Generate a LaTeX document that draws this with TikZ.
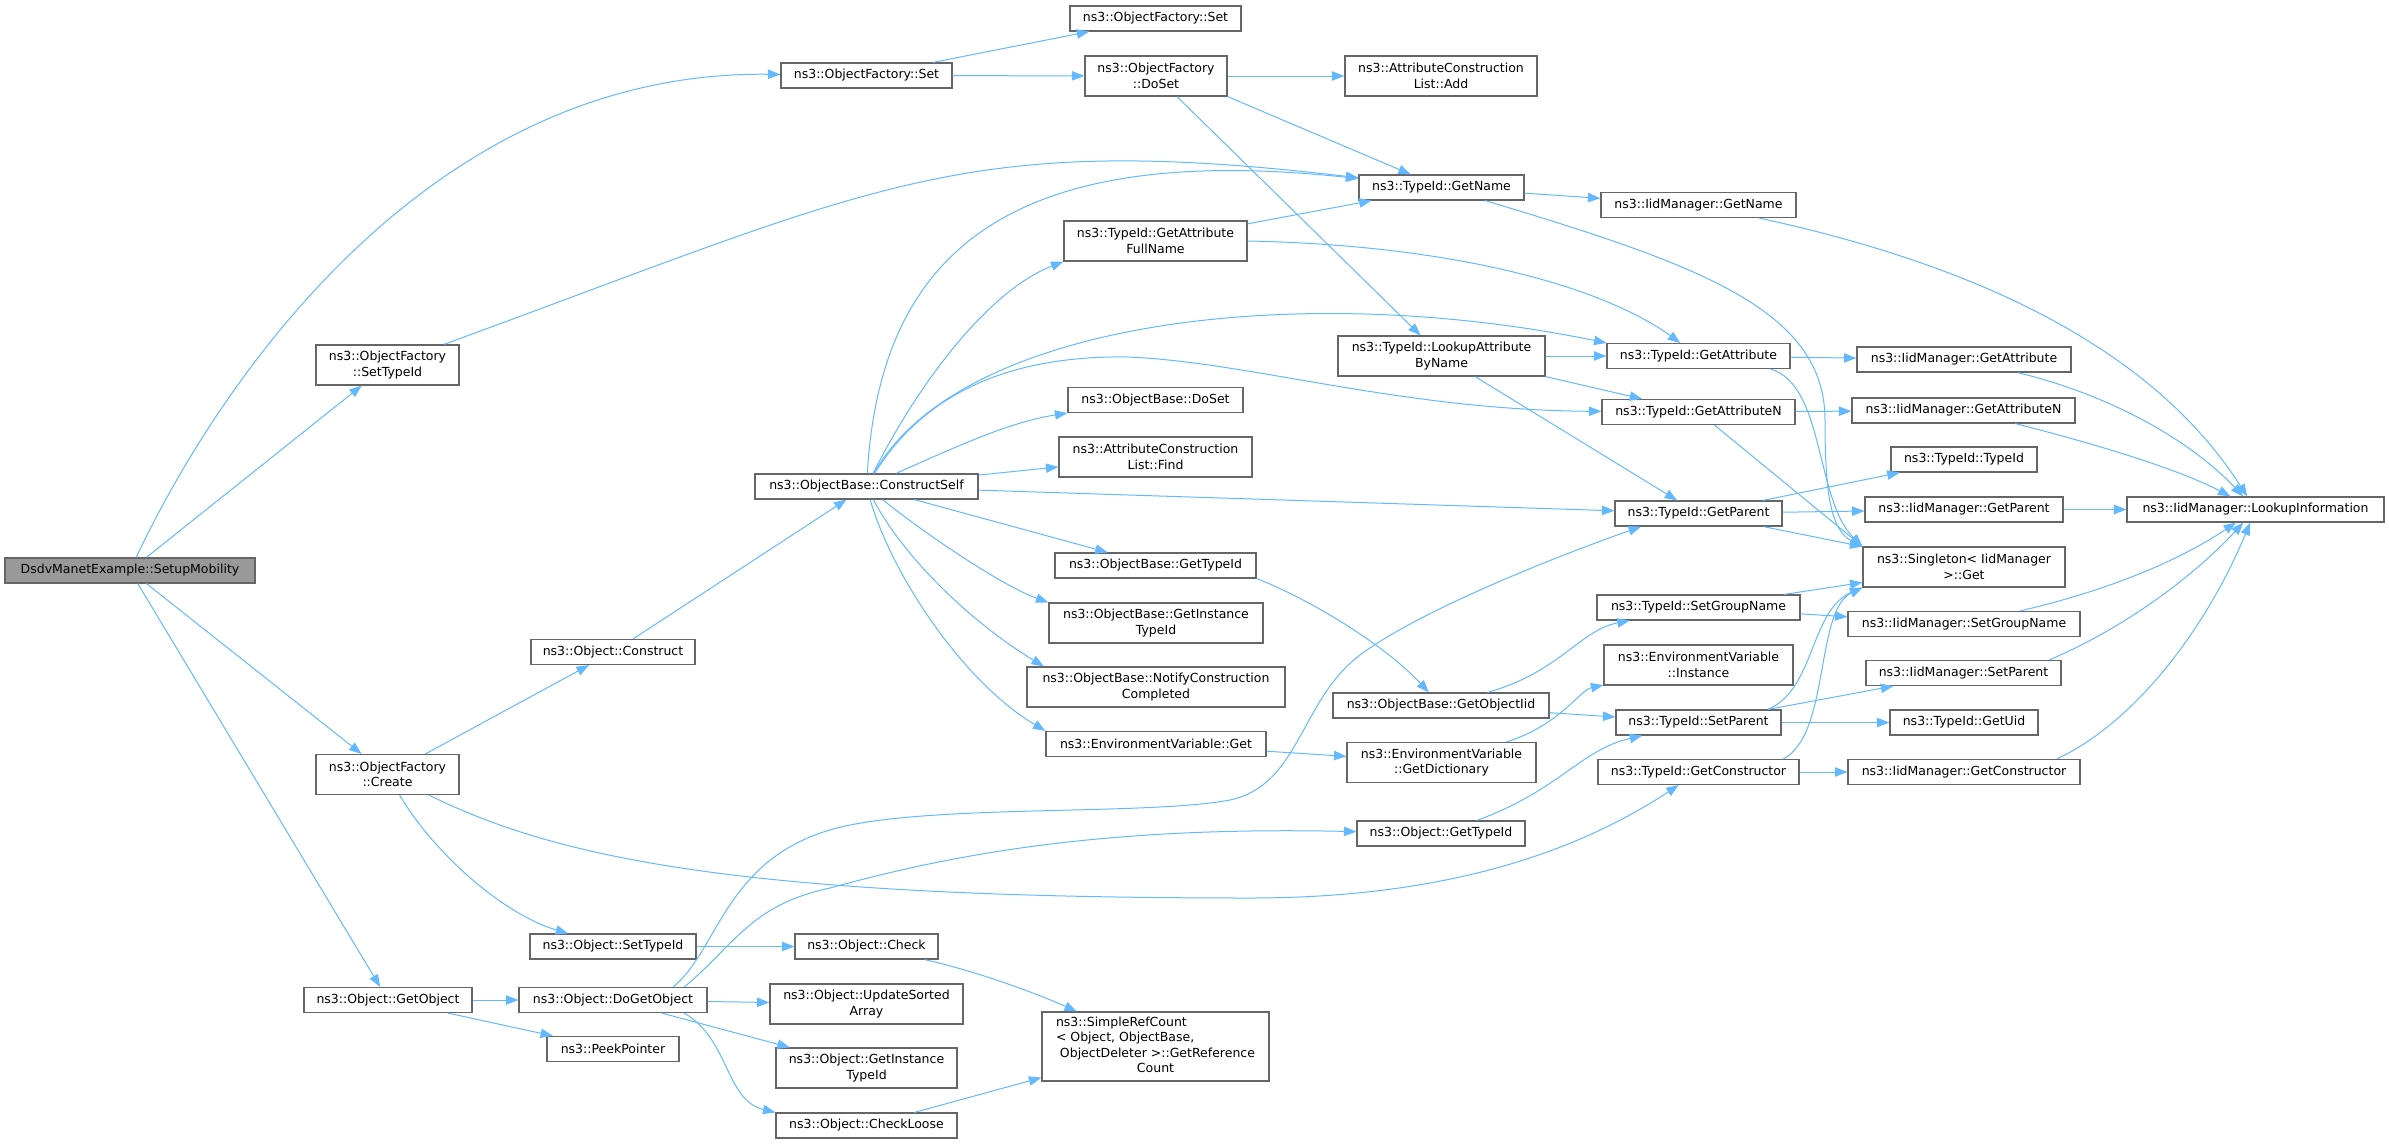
\documentclass[tikz,border=0pt]{standalone}
\usepackage{fontspec}
\setmainfont{DejaVu Sans}
\usetikzlibrary{arrows.meta}

\definecolor{callblue}{HTML}{63B8FF}
\definecolor{boxgray}{HTML}{666666}
\definecolor{rootgray}{HTML}{999999}

\begin{document}
\begin{tikzpicture}[x=0.8pt, y=-0.8pt,
    fn/.style={draw=boxgray, line width=0.9pt, fill=white, inner sep=0pt, align=center, font=\fontsize{10}{12.3}\selectfont},
    sz/.style 2 args={minimum width=#1*0.8pt, minimum height=#2*0.8pt},
    call/.style={callblue, line width=0.8pt, -{Triangle[length=10pt,width=7.5pt]}}]

        % page is as big as the graph
        \useasboundingbox (0,0) rectangle (2389,1143);

        % the documented function
        \node[fn, fill=rootgray, sz={250}{25}] (root) at (130,570.5) {DsdvManetExample::SetupMobility};

        % callees: name/x/y/width/height/text
        \foreach \nm/\cx/\cy/\w/\h/\txt in {
                ofset/866.5/75.5/171/25/{ns3::ObjectFactory::Set},
                ofsettop/1155.5/18.5/171/25/{ns3::ObjectFactory::Set},
                dosetof/1156/76/142/40/{ns3::ObjectFactory\\::DoSet},
                acladd/1441/76/192/40/{ns3::AttributeConstruction\\List::Add},
                settypeidof/387.5/365/143/40/{ns3::ObjectFactory\\::SetTypeId},
                getname/1441.5/187.5/165/25/{ns3::TypeId::GetName},
                iidgetname/1698.5/205/195/25/{ns3::IidManager::GetName},
                fullname/1155.5/241/183/40/{ns3::TypeId::GetAttribute\\FullName},
                lookupbyname/1441.5/356/207/40/{ns3::TypeId::LookupAttribute\\ByName},
                getattr/1698.5/356/183/25/{ns3::TypeId::GetAttribute},
                iidgetattr/1964/359.5/214/25/{ns3::IidManager::GetAttribute},
                getattrN/1698.5/412/193/25/{ns3::TypeId::GetAttributeN},
                iidgetattrN/1963.5/410.5/223/25/{ns3::IidManager::GetAttributeN},
                typeidtypeid/1964/459.5/146/25/{ns3::TypeId::TypeId},
                getparent/1698.5/513.5/167/25/{ns3::TypeId::GetParent},
                iidgetparent/1964/509.5/198/25/{ns3::IidManager::GetParent},
                lookupinfo/2255.5/509.5/257/25/{ns3::IidManager::LookupInformation},
                singleton/1964/567/202/40/{ns3::Singleton< IidManager\\ >::Get},
                constructself/866.5/486.5/223/25/{ns3::ObjectBase::ConstructSelf},
                obdoset/1155.5/400/175/25/{ns3::ObjectBase::DoSet},
                aclfind/1155.5/457/193/40/{ns3::AttributeConstruction\\List::Find},
                obgettypeid/1155.5/565.5/201/25/{ns3::ObjectBase::GetTypeId},
                obgetinsttypeid/1156/623/214/40/{ns3::ObjectBase::GetInstance\\TypeId},
                notify/1156/687/258/40/{ns3::ObjectBase::NotifyConstruction\\Completed},
                envget/1156/744/220/25/{ns3::EnvironmentVariable::Get},
                getobjectiid/1441/705.5/216/25/{ns3::ObjectBase::GetObjectIid},
                getdict/1441.5/762.5/189/40/{ns3::EnvironmentVariable\\::GetDictionary},
                objgettypeid/1441/833.5/168/25/{ns3::Object::GetTypeId},
                setgroupname/1698.5/607.5/203/25/{ns3::TypeId::SetGroupName},
                envinstance/1698.5/665/189/40/{ns3::EnvironmentVariable\\::Instance},
                setparent/1698.5/722.5/165/25/{ns3::TypeId::SetParent},
                getconstructor/1698.5/772/201/25/{ns3::TypeId::GetConstructor},
                iidsetgroupname/1964/624/232/25/{ns3::IidManager::SetGroupName},
                iidsetparent/1963.5/673/195/25/{ns3::IidManager::SetParent},
                getuid/1964/722.5/148/25/{ns3::TypeId::GetUid},
                iidgetconstructor/1964/772/232/25/{ns3::IidManager::GetConstructor},
                construct/613/652/164/25/{ns3::Object::Construct},
                create/387.5/774.5/143/40/{ns3::ObjectFactory\\::Create},
                objsettypeid/613/946.5/166/25/{ns3::Object::SetTypeId},
                getobject/388/1000/168/25/{ns3::Object::GetObject},
                dogetobject/613/1000/188/25/{ns3::Object::DoGetObject},
                peekpointer/613/1049/132/25/{ns3::PeekPointer},
                check/866.5/946.5/143/25/{ns3::Object::Check},
                updatesorted/866.5/1004/193/40/{ns3::Object::UpdateSorted\\Array},
                objinsttypeid/866.5/1068/181/40/{ns3::Object::GetInstance\\TypeId},
                checkloose/866.5/1125.5/181/25/{ns3::Object::CheckLoose}}
                \node[fn, sz={\w}{\h}] (\nm) at (\cx,\cy) {\txt};

        \node[fn, sz={227}{69}] (simplerefcount) at (1155.5,1046.5)
                {\begin{tabular}{@{}l@{}}ns3::SimpleRefCount\\< Object, ObjectBase,\\\ ObjectDeleter >::GetReference\\\multicolumn{1}{@{}c@{}}{Count}\end{tabular}};

        % straight calls
        \foreach \a/\b in {root/settypeidof, root/create, root/getobject, ofset/ofsettop, ofset/dosetof,
                dosetof/acladd, dosetof.south east/getname, dosetof/lookupbyname, fullname/getname,
                lookupbyname/getattr, lookupbyname.south east/getattrN, lookupbyname/getparent,
                constructself/getparent, constructself/aclfind, constructself/obgettypeid,
                construct/constructself, create/construct, objsettypeid/check, getobject/dogetobject,
                getobject/peekpointer, dogetobject/updatesorted, dogetobject/objinsttypeid,
                envget/getdict, getobjectiid/setparent, setgroupname/singleton,
                setgroupname/iidsetgroupname, setparent/getuid, getconstructor/iidgetconstructor,
                getparent/typeidtypeid, getparent/iidgetparent, getparent/singleton,
                getattrN/singleton.north west, getname/iidgetname, getattr/iidgetattr,
                getattrN/iidgetattrN, iidgetparent/lookupinfo, checkloose/simplerefcount}
                \draw[call] (\a) -- (\b);

        % curved calls
        \draw[call] (root) .. controls (220,380) and (430,70) .. (ofset);
        \draw[call] (settypeidof) .. controls (880,185) and (960,131) .. (getname);
        \draw[call] (constructself) .. controls (880,260) and (1000,140) .. (getname);
        \draw[call] (fullname.east) .. controls (1450,245) and (1600,285) .. (getattr);
        \draw[call] (constructself) .. controls (920,380) and (990,290) .. (fullname.south west);
        \draw[call] (constructself) .. controls (960,320) and (1300,280) .. (getattr.north west);
        \draw[call] (constructself) .. controls (920,400) and (1000,355) .. (1128,357)
                .. controls (1250,362) and (1400,410) .. (getattrN);
        \draw[call] (constructself) .. controls (960,445) and (1010,422) .. (obdoset.south west);
        \draw[call] (constructself) .. controls (920,530) and (1000,585) .. (obgetinsttypeid.north west);
        \draw[call] (constructself) .. controls (905,560) and (975,625) .. ([xshift=14pt]notify.north west);
        \draw[call] (constructself) .. controls (890,570) and (960,680) .. (envget.north west);
        \draw[call] (create) .. controls (435,855) and (505,915) .. (objsettypeid);
        \draw[call] (create) .. controls (560,860) and (750,898) .. (1250,898)
                .. controls (1450,898) and (1580,850) .. (getconstructor);
        \draw[call] ([xshift=57pt]dogetobject.south) .. controls (730,1040) and (725,1100) .. (checkloose.north west);
        \draw[call] ([xshift=48pt]dogetobject.north) .. controls (720,950) and (725,850) .. (850,825)
                .. controls (950,805) and (1150,815) .. (1230,800)
                .. controls (1300,785) and (1300,700) .. (1360,655)
                .. controls (1420,610) and (1560,555) .. ([xshift=-46pt]getparent.south);
        \draw[call] ([xshift=57pt]dogetobject.north) .. controls (735,945) and (750,905) .. (830,888)
                .. controls (950,855) and (1100,826) .. (objgettypeid);
        \draw[call] (obgettypeid.south east) .. controls (1300,595) and (1380,640) .. (getobjectiid);
        \draw[call] (getobjectiid) .. controls (1560,672) and (1580,630) .. (setgroupname);
        \draw[call] (getdict) .. controls (1560,725) and (1580,690) .. (envinstance);
        \draw[call] (objgettypeid) .. controls (1560,790) and (1580,750) .. (setparent);
        \draw[call] ([xshift=-11pt]setparent.north east) .. controls (1815,690) and (1810,610) .. (singleton.south west);
        \draw[call] ([xshift=-11pt]setparent.north east) -- (iidsetparent);
        \draw[call] ([xshift=-13pt]getconstructor.north east) .. controls (1830,735) and (1815,610) .. (singleton.south west);
        \draw[call] (getname) .. controls (1700,265) and (1825,310) .. (1825,420)
                .. controls (1825,490) and (1830,530) .. (singleton.north west);
        \draw[call] ([xshift=-16pt]getattr.south east) .. controls (1825,385) and (1815,500) .. (singleton.north west);
        \draw[call] (iidgetname) .. controls (2000,270) and (2160,360) .. (lookupinfo);
        \draw[call] (iidgetattr) .. controls (2110,395) and (2190,440) .. (lookupinfo);
        \draw[call] (iidgetattrN) .. controls (2100,445) and (2180,470) .. (lookupinfo);
        \draw[call] (iidsetgroupname) .. controls (2110,590) and (2180,560) .. (lookupinfo);
        \draw[call] ([xshift=-10pt]iidsetparent.north east) .. controls (2120,630) and (2190,580) .. (lookupinfo);
        \draw[call] ([xshift=-19pt]iidgetconstructor.north east) .. controls (2140,720) and (2210,620) .. (lookupinfo);
        \draw[call] (check) .. controls (980,972) and (1040,995) .. (simplerefcount);

\end{tikzpicture}
\end{document}
